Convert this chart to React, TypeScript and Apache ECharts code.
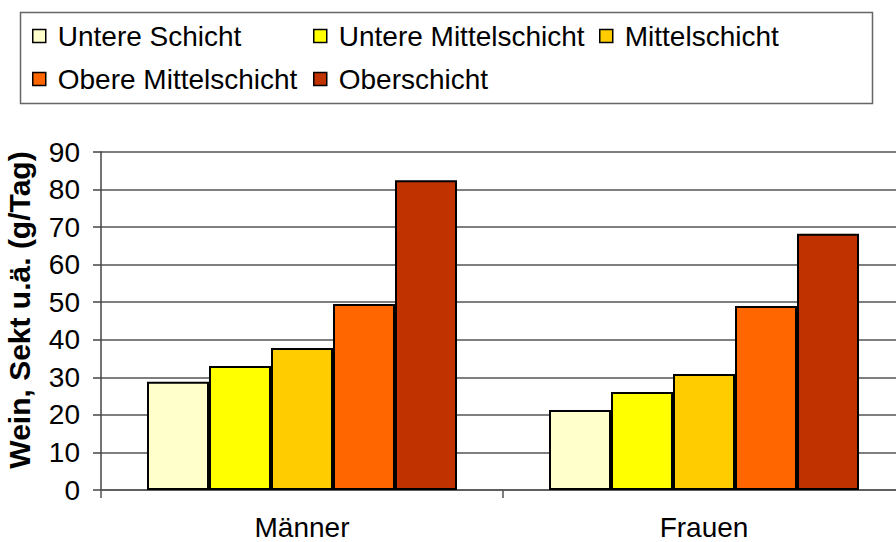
import React, { useEffect, useRef } from "react";
import * as echarts from "echarts";

const categories = ["Männer", "Frauen"];
const seriesNames = [
  "Untere Schicht",
  "Untere Mittelschicht",
  "Mittelschicht",
  "Obere Mittelschicht",
  "Oberschicht",
];
const untereSchicht = [28.8, 21.3];
const untereMittelschicht = [33.0, 26.1];
const mittelschicht = [37.8, 30.9];
const obereMittelschicht = [49.5, 49.0];
const oberschicht = [82.5, 68.2];
const yTicks = [0, 10, 20, 30, 40, 50, 60, 70, 80, 90];
const yAxisTitle = "Wein, Sekt u.ä. (g/Tag)";

const colors = ["#FFFFCC", "#FFFF00", "#FFCC00", "#FF6600", "#C03300"];
const FONT = "'Liberation Sans', Arial, sans-serif";

export default function App() {
  const ref = useRef<HTMLDivElement>(null);
  useEffect(() => {
    if (!ref.current) return;
    const chart = echarts.init(ref.current, null, { renderer: "svg" });
    const values = [untereSchicht, untereMittelschicht, mittelschicht, obereMittelschicht, oberschicht];
    const legendPos = [
      { left: 32, top: 22 },
      { left: 313, top: 22 },
      { left: 599, top: 22 },
      { left: 32, top: 65 },
      { left: 313, top: 65 },
    ];
    const option: any = {
      animation: false,
      backgroundColor: "#ffffff",
      graphic: [
        {
          type: "rect",
          shape: { x: 20.5, y: 12.5, width: 852, height: 91 },
          style: { fill: "none", stroke: "#666666", lineWidth: 1.5 },
          silent: true,
        },
        {
          type: "text",
          x: 19,
          y: 310,
          rotation: Math.PI / 2,
          silent: true,
          style: {
            text: yAxisTitle,
            font: "bold 30px 'Liberation Sans', Arial, sans-serif",
            fill: "#000",
            align: "center",
            verticalAlign: "middle",
          },
        },
      ],
      legend: seriesNames.map((n, i) => ({
        data: [n],
        left: legendPos[i].left,
        top: legendPos[i].top,
        padding: 0,
        itemWidth: 13,
        itemHeight: 13,
        icon: "rect",
        itemStyle: { borderColor: "#000", borderWidth: 1.5 },
        textStyle: {
          fontFamily: FONT,
          fontSize: 28,
          color: "#000",
          padding: [0, 0, 0, 7],
        },
      })),
      grid: { left: 101, top: 152, width: 804, height: 338, containLabel: false },
      xAxis: {
        type: "category",
        data: categories,
        axisLine: { lineStyle: { color: "#555555", width: 1.5 } },
        axisTick: { show: true, length: 8, lineStyle: { color: "#555555", width: 1.5 } },
        axisLabel: { fontFamily: FONT, fontSize: 28, color: "#000", margin: 23 },
      },
      yAxis: {
        type: "value",
        min: 0,
        max: 90,
        interval: 10,
        axisLine: { show: true, lineStyle: { color: "#444444", width: 1.5 } },
        axisTick: { show: true, length: 8, lineStyle: { color: "#444444", width: 1.5 } },
        axisLabel: {
          fontFamily: FONT,
          fontSize: 28,
          color: "#000",
          margin: 21,
          formatter: (v: number) => (yTicks.includes(v) ? String(v) : ""),
        },
        splitLine: { show: true, lineStyle: { color: "#555555", width: 1.5 } },
      },
      series: seriesNames.map((n, i) => ({
        name: n,
        type: "bar",
        data: values[i],
        barWidth: 62,
        barGap: "0%",
        itemStyle: { color: colors[i], borderColor: "#000", borderWidth: 2 },
      })),
    };
    chart.setOption(option);
    return () => chart.dispose();
  }, []);
  return (
    <div
      style={{ position: "fixed", left: 0, top: 0, width: 896, height: 542, overflow: "hidden", background: "#fff" }}
    >
      <div ref={ref} style={{ width: 912, height: 542 }} />
    </div>
  );
}
